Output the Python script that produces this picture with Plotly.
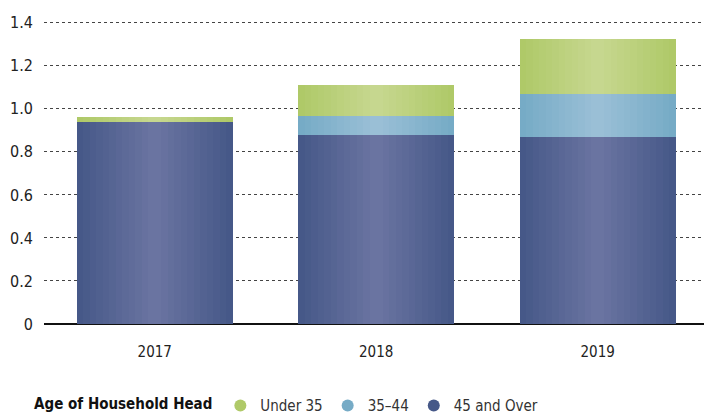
import numpy as np
import plotly.graph_objects as go

years = ["2017", "2018", "2019"]
over45 = [0.94, 0.88, 0.87]
age35_44 = [0.0, 0.085, 0.20]
under35 = [0.02, 0.145, 0.255]

series = [
    ("45 and Over", over45, "#465888", "#6a74a1"),
    ("35\u201344", age35_44, "#76abc6", "#9abfd6"),
    ("Under 35", under35, "#afc968", "#c6d78f"),
]
legend_order = ["Under 35", "35\u201344", "45 and Over"]

FONT = "DejaVu Sans Condensed, DejaVu Sans"
W = 0.704
N = 12

def hex2rgb(h):
    h = h.lstrip("#")
    return np.array([int(h[i:i + 2], 16) for i in (0, 2, 4)], dtype=float)

def mix(a, b, t):
    c = hex2rgb(a) * (1 - t) + hex2rgb(b) * t
    return "rgb(%d,%d,%d)" % tuple(np.round(c))

fig = go.Figure()
base = np.zeros(len(years))
for name, vals, edge, center in series:
    vals = np.array(vals)
    for k in range(N):
        t = k / (N - 1)
        fig.add_trace(go.Bar(
            x=years, y=vals, base=base, width=W * (1 - k / N),
            marker=dict(color=mix(edge, center, t), line=dict(width=0)),
            name=name, showlegend=False, hoverinfo="skip" if k else None,
        ))
    base = base + vals

colors = {n: e for n, _, e, _ in series}
for n in legend_order:
    fig.add_trace(go.Scatter(
        x=[None], y=[None], mode="markers", name=n,
        marker=dict(symbol="circle", size=18, color=colors[n]),
    ))

fig.update_layout(
    width=704, height=416,
    barmode="overlay", bargap=0,
    margin=dict(l=44, r=0, t=12, b=92, autoexpand=False),
    plot_bgcolor="white", paper_bgcolor="white",
    font=dict(family=FONT, size=15, color="#222222"),
    legend=dict(
        orientation="h", x=-0.018, xref="paper", y=-0.262, yanchor="middle",
        xanchor="left",
        title=dict(text="<b>Age of Household Head</b>", font=dict(size=15, color="#111111")),
        font=dict(size=15, color="#333333"),
        itemsizing="constant", traceorder="normal",
    ),
    showlegend=True,
)
fig.update_xaxes(
    type="category", range=[-0.5, 2.48], automargin=False,
    showgrid=False, ticks="", tickfont=dict(size=15, color="#222222"),
    showline=False, ticklabelstandoff=17,
)
fig.update_yaxes(
    range=[0, 1.45], automargin=False,
    tickvals=[0, 0.2, 0.4, 0.6, 0.8, 1.0, 1.2, 1.4],
    ticktext=["0", "0.2", "0.4", "0.6", "0.8", "1.0", "1.2", "1.4"],
    showgrid=True, gridcolor="#444444", griddash="dot", gridwidth=1,
    zeroline=True, zerolinecolor="#111111", zerolinewidth=2,
    ticks="", ticklabelstandoff=10, tickfont=dict(size=16, color="#222222"),
)
fig.write_html("out.html", config={"displayModeBar": False},
               post_script="document.body.style.margin='0';")
